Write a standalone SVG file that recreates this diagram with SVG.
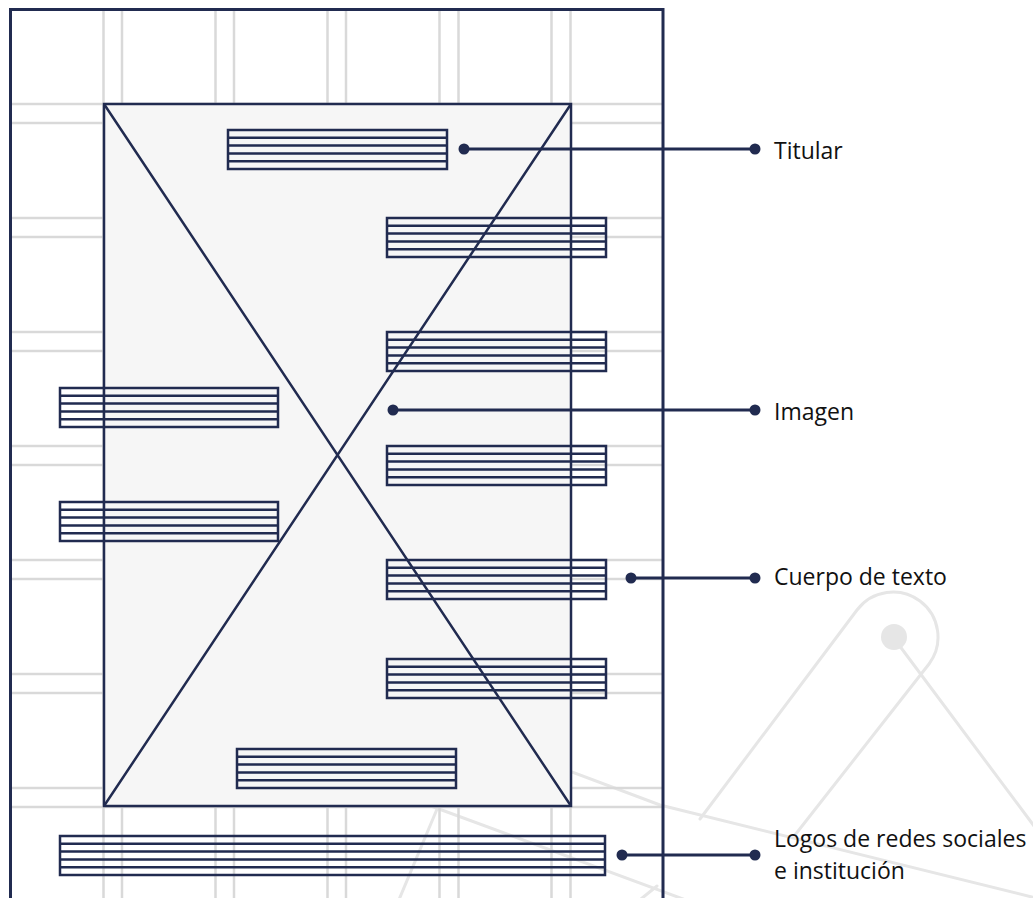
<svg xmlns="http://www.w3.org/2000/svg" width="1033" height="898" viewBox="0 0 1033 898">
<style>
.deco{fill:none;stroke:#e6e6e6;stroke-width:3;stroke-linecap:round}
.grid{fill:none;stroke:#d9d9d9;stroke-width:2.5}
.navy{fill:none;stroke:#212b50;stroke-width:2.5}
.blk{fill:none;stroke:#212b50;stroke-width:2.5}
.frame{fill:none;stroke:#212b50;stroke-width:3}
.conn{fill:none;stroke:#212b50;stroke-width:3}
.dot{fill:#212b50}
.lbl{font-family:"Open Sans","Noto Sans",sans-serif;font-size:23px;fill:#111111}
</style>
<rect width="1033" height="898" fill="#ffffff"/>
<g id="decoration">
<path class="deco" d="M500 745 L660 805 L1040 899"/>
<path class="deco" d="M420 802 L740 920"/>
<path class="deco" d="M398 902 L440 802"/>
<path class="deco" d="M641 899 L657 886"/>
<path class="deco" d="M700 819 L857 610 A45 45 0 0 1 929 664 L795 835"/>
<path class="deco" d="M893 637 L1040 834"/>
<circle cx="894" cy="637" r="13" fill="#e6e6e6"/>
</g>
<g id="grid">
<path class="grid" d="M103.5 9V898M122 9V898M215.5 9V898M234 9V898M327.5 9V898M346 9V898M439.5 9V898M458.5 9V898M551.5 9V898M570.5 9V898"/>
<path class="grid" d="M10 104H663M10 123H663M10 218H663M10 237H663M10 332H663M10 351H663M10 446H663M10 465H663M10 560H663M10 579H663M10 674H663M10 693H663M10 788H663M10 807H663"/>
</g>
<g id="imagen-area">
<rect x="104" y="104" width="467" height="702" fill="#f6f6f6" stroke="#212b50" stroke-width="2.5"/>
<path class="navy" d="M104 104L571 806M571 104L104 806"/>
</g>
<g id="frame">
<path class="frame" d="M10.5 905V9.5H663V905"/>
</g>
<g id="block-titular">
<rect class="blk" x="228" y="130" width="219" height="39"/>
<path class="blk" d="M228 137.8H447M228 145.6H447M228 153.4H447M228 161.2H447"/>
</g>
<g id="block-r1">
<rect class="blk" x="387" y="218" width="219" height="39"/>
<path class="blk" d="M387 225.8H606M387 233.6H606M387 241.4H606M387 249.2H606"/>
</g>
<g id="block-r2">
<rect class="blk" x="387" y="332" width="219" height="39"/>
<path class="blk" d="M387 339.8H606M387 347.6H606M387 355.4H606M387 363.2H606"/>
</g>
<g id="block-r3">
<rect class="blk" x="387" y="446" width="219" height="39"/>
<path class="blk" d="M387 453.8H606M387 461.6H606M387 469.4H606M387 477.2H606"/>
</g>
<g id="block-r4">
<rect class="blk" x="387" y="560" width="219" height="39"/>
<path class="blk" d="M387 567.8H606M387 575.6H606M387 583.4H606M387 591.2H606"/>
</g>
<g id="block-r5">
<rect class="blk" x="387" y="659" width="219" height="39"/>
<path class="blk" d="M387 666.8H606M387 674.6H606M387 682.4H606M387 690.2H606"/>
</g>
<g id="block-bottom-inner">
<rect class="blk" x="237" y="749" width="219" height="39"/>
<path class="blk" d="M237 756.8H456M237 764.6H456M237 772.4H456M237 780.2H456"/>
</g>
<g id="block-l1">
<rect class="blk" x="60" y="388" width="218" height="39"/>
<path class="blk" d="M60 395.8H278M60 403.6H278M60 411.4H278M60 419.2H278"/>
</g>
<g id="block-l2">
<rect class="blk" x="60" y="502" width="218" height="39"/>
<path class="blk" d="M60 509.8H278M60 517.6H278M60 525.4H278M60 533.2H278"/>
</g>
<g id="block-logos">
<rect class="blk" x="60" y="836" width="545" height="39"/>
<path class="blk" d="M60 843.8H605M60 851.6H605M60 859.4H605M60 867.2H605"/>
</g>
<g id="connectors">
<path class="conn" d="M464 149H755M393 410H755M631 578H755M622 855H755"/>
<circle class="dot" cx="464" cy="149" r="5.5"/>
<circle class="dot" cx="755" cy="149" r="5.5"/>
<circle class="dot" cx="393" cy="410" r="5.5"/>
<circle class="dot" cx="755" cy="410" r="5.5"/>
<circle class="dot" cx="631" cy="578" r="5.5"/>
<circle class="dot" cx="755" cy="578" r="5.5"/>
<circle class="dot" cx="622" cy="855" r="5.5"/>
<circle class="dot" cx="755" cy="855" r="5.5"/>
</g>
<g id="label-titular"><text class="lbl" x="774" y="159">Titular</text></g>
<g id="label-imagen"><text class="lbl" x="774" y="420">Imagen</text></g>
<g id="label-cuerpo"><text class="lbl" x="774" y="585">Cuerpo de texto</text></g>
<g id="label-logos"><text class="lbl" x="774" y="847">Logos de redes sociales</text><text class="lbl" x="774" y="879">e institución</text></g>
</svg>
